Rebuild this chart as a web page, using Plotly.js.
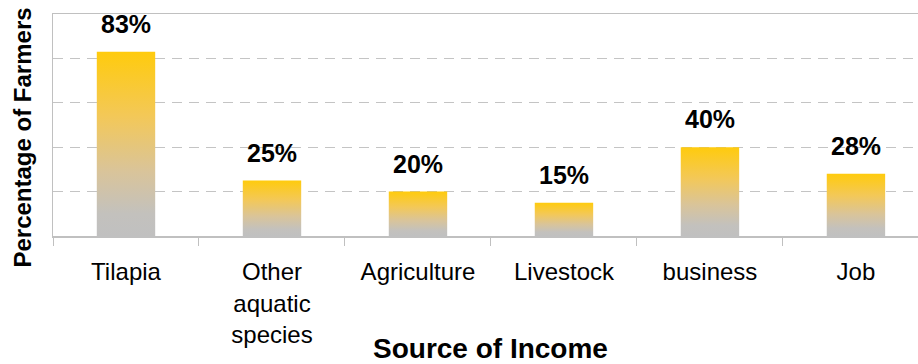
<!DOCTYPE html>
<html>
<head>
<meta charset="utf-8">
<script src="https://cdn.plot.ly/plotly-3.0.1.min.js"></script>
<style>html,body{margin:0;padding:0;background:#fff;}#chart{width:918px;height:364px;}</style>
</head>
<body>
<div id="chart"></div>
<script>
const categories = ["Tilapia", "Other<br>aquatic<br>species", "Agriculture", "Livestock", "business", "Job"];
const values = [83, 25, 20, 15, 40, 28];
const labels = values.map(v => v + "%");
const yTitle = "Percentage of Farmers";
const xTitle = "Source of Income";

const FONT = "Liberation Sans, Arial, sans-serif";

const trace = {
  type: "bar",
  x: categories,
  y: values,
  width: 0.4,
  marker: {color: "#E8C56A", line: {width: 0}},
  hoverinfo: "skip"
};

const annotations = categories.map((c, i) => ({
  x: c, y: values[i], xref: "x", yref: "y",
  text: "<b>" + labels[i] + "</b>",
  showarrow: false, yanchor: "bottom", yshift: 12,
  font: {family: FONT, size: 25, color: "#000"}
}));
annotations.push({
  x: 2.5, xref: "x", y: -0.505, yref: "paper",
  text: "<b>" + xTitle + "</b>", showarrow: false,
  xanchor: "center", yanchor: "middle",
  font: {family: FONT, size: 28, color: "#000"}
});
annotations.push({
  x: -0.0358, xref: "paper", y: 0.4437, yref: "paper",
  text: "<b>" + yTitle + "</b>", showarrow: false, textangle: -90,
  xanchor: "center", yanchor: "middle",
  font: {family: FONT, size: 24, color: "#000"}
});

const layout = {
  width: 918, height: 364,
  margin: {l: 53, r: 0, t: 14, b: 128, pad: 0},
  paper_bgcolor: "#fff", plot_bgcolor: "#fff",
  showlegend: false,
  font: {family: FONT, color: "#000"},
  xaxis: {
    type: "category",
    range: [-0.5, 5.425],
    tickson: "boundaries",
    ticks: "outside", ticklen: 8, tickcolor: "#C0C0C0", tickwidth: 1,
    ticklabelstandoff: 14,
    showline: true, linecolor: "#C0C0C0", linewidth: 1.5, mirror: true,
    showgrid: false, zeroline: false,
    tickfont: {family: FONT, size: 24, color: "#000"},
    fixedrange: true
  },
  yaxis: {
    range: [0, 100], dtick: 20,
    showticklabels: false, ticks: "",
    showgrid: true, gridcolor: "#C4C4C4", gridwidth: 1, griddash: "10px,7px",
    showline: true, linecolor: "#C0C0C0", linewidth: 1,
    zeroline: false, fixedrange: true
  },
  annotations: annotations
};

Plotly.newPlot("chart", [trace], layout, {displayModeBar: false, staticPlot: true}).then(gd => {
  const svg = gd.querySelector("svg.main-svg");
  const ns = "http://www.w3.org/2000/svg";
  let defs = svg.querySelector("defs");
  if (!defs) { defs = document.createElementNS(ns, "defs"); svg.insertBefore(defs, svg.firstChild); }
  const grad = document.createElementNS(ns, "linearGradient");
  grad.setAttribute("id", "barGrad");
  grad.setAttribute("x1", "0"); grad.setAttribute("y1", "0");
  grad.setAttribute("x2", "0"); grad.setAttribute("y2", "1");
  [["0", "#FFCB0D"], ["0.35", "#F3C858"], ["0.65", "#D9C49A"], ["0.88", "#C3C1BD"], ["1", "#C0C0C0"]].forEach(([o, c]) => {
    const s = document.createElementNS(ns, "stop");
    s.setAttribute("offset", o); s.setAttribute("stop-color", c);
    grad.appendChild(s);
  });
  defs.appendChild(grad);
  gd.querySelectorAll(".bars .point path").forEach(p => { p.style.fill = "url(#barGrad)"; });
});
</script>
</body>
</html>
